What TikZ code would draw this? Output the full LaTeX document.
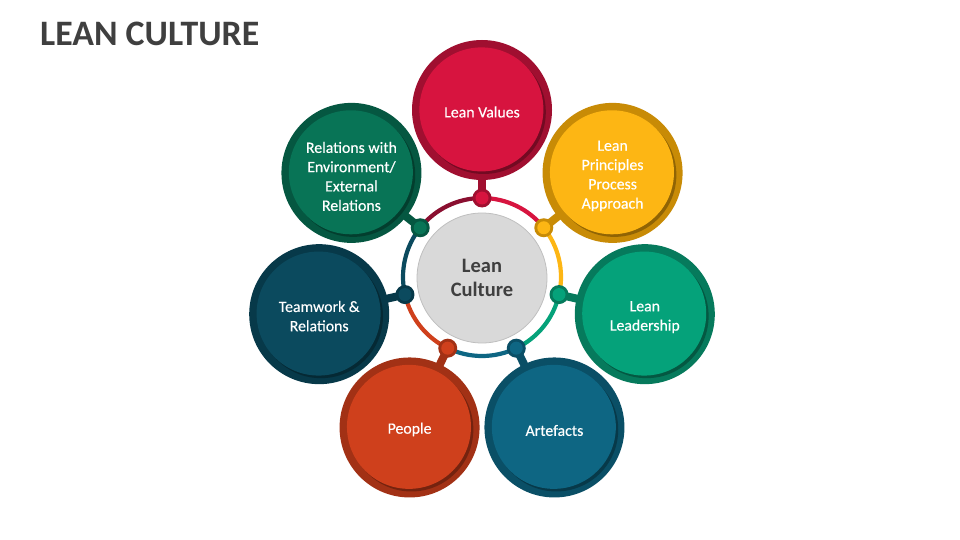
\documentclass[tikz,border=0pt]{standalone}
\usepackage{fontspec}
\setmainfont{Carlito}
\newfontface\labfont{Carlito}[FakeBold=0.4]
\usetikzlibrary{calc}
\pgfdeclarelayer{background}
\pgfsetlayers{background,main}
\definecolor{valL}{HTML}{D7143F}\definecolor{valD}{HTML}{A00F30}
\definecolor{priL}{HTML}{FDB614}\definecolor{priD}{HTML}{C88B06}
\definecolor{leaL}{HTML}{05A27A}\definecolor{leaD}{HTML}{067A5C}
\definecolor{artL}{HTML}{0E6683}\definecolor{artD}{HTML}{0A4F66}
\definecolor{peoL}{HTML}{CF401C}\definecolor{peoD}{HTML}{A23115}
\definecolor{teaL}{HTML}{0B4A5E}\definecolor{teaD}{HTML}{073949}
\definecolor{relL}{HTML}{087456}\definecolor{relD}{HTML}{055741}
\definecolor{arcV}{HTML}{8A0F30}
\definecolor{titlegray}{HTML}{3F3F3F}
\definecolor{centerfill}{HTML}{D9D9D9}
\definecolor{centerline}{HTML}{BFBFBF}
\tikzset{
  bubble/.style 2 args={circle, minimum size=140pt, inner sep=0pt, fill=#1,
    path picture={
      \fill[black,opacity=0.28] ([shift={(1.8pt,-2pt)}]path picture bounding box.center) circle (62pt);
      \fill[#2] ([shift={(-0.6pt,0.6pt)}]path picture bounding box.center) circle (62pt);
    }},
  bubbletext/.style={text=white, align=center, inner sep=0pt,
    font=\labfont\fontsize{15.8}{19.3}\selectfont},
  ringdot/.style 2 args={circle, minimum size=19pt, inner sep=0pt, fill=#1,
    path picture={\fill[#2] (path picture bounding box.center) circle (6.5pt);}},
  stem/.style={line width=8pt, draw=#1},
  ringarc/.style={line width=4.2pt, draw=#1},
  hub/.style={circle, minimum size=130pt, inner sep=0pt, fill=centerfill,
    draw=centerline, line width=0.8pt, text=titlegray, align=center,
    font=\bfseries\fontsize{20.5}{24.4}\selectfont},
  title/.style={anchor=base west, text=titlegray, inner sep=0pt,
    font=\bfseries\fontsize{35.8}{40}\selectfont}
}
\begin{document}
\begin{tikzpicture}[x=1pt,y=-1pt]
\useasboundingbox (0,0) rectangle (960,540);
\node[title] (title) at (40,46) {LEAN CULTURE};
\coordinate (c) at (482,277);
\node[hub] (hub) at ([yshift=-1pt]c) {Lean\\Culture};
% dots on the ring (picture angle = - screen angle)
\node[ringdot={valD}{valL}] (dV) at ($(c)+(-90:79)$) {};
\node[ringdot={priD}{priL}] (dP) at ($(c)+(-38.57:79)$) {};
\node[ringdot={leaD}{leaL}] (dL) at ($(c)+(12.86:79)$) {};
\node[ringdot={artD}{artL}] (dA) at ($(c)+(64.29:79)$) {};
\node[ringdot={peoD}{peoL}] (dO) at ($(c)+(115.71:79)$) {};
\node[ringdot={teaD}{teaL}] (dT) at ($(c)+(167.14:79)$) {};
\node[ringdot={relD}{relL}] (dR) at ($(c)+(218.57:79)$) {};
% bubbles
\node[bubble={valD}{valL}] (V) at ($(c)+(-90:167)$) {};
\node[bubble={priD}{priL}] (P) at ($(c)+(-38.57:167)$) {};
\node[bubble={leaD}{leaL}] (L) at ($(c)+(12.86:167)$) {};
\node[bubble={artD}{artL}] (A) at ($(c)+(64.29:167)$) {};
\node[bubble={peoD}{peoL}] (O) at ($(c)+(115.71:167)$) {};
\node[bubble={teaD}{teaL}] (T) at ($(c)+(167.14:167)$) {};
\node[bubble={relD}{relL}] (R) at ($(c)+(218.57:167)$) {};
% bubble texts
\node[bubbletext] (Vt) at ([yshift=-2pt]V) {Lean Values};
\node[bubbletext] (Pt) at ([yshift=-3pt]P) {Lean\\Principles\\Process\\Approach};
\node[bubbletext] (Lt) at ([yshift=-3pt]L) {Lean\\Leadership};
\node[bubbletext] (At) at ([yshift=-3pt]A) {Artefacts};
\node[bubbletext] (Ot) at ([yshift=-2pt]O) {People};
\node[bubbletext] (Tt) at ([yshift=-2pt]T) {Teamwork \&\\Relations};
\node[bubbletext] (Rt) at ([yshift=-3.5pt]R) {Relations with\\Environment/\\External\\Relations};
\begin{pgfonlayer}{background}
  \draw[ringarc=arcV] (dR.center) arc[start angle=218.57, end angle=270, radius=79];
  \draw[ringarc=valL] (dV.center) arc[start angle=270, end angle=321.43, radius=79];
  \draw[ringarc=priL] (dP.center) arc[start angle=321.43, end angle=372.86, radius=79];
  \draw[ringarc=leaL] (dL.center) arc[start angle=12.86, end angle=64.29, radius=79];
  \draw[ringarc=artL] (dA.center) arc[start angle=64.29, end angle=115.71, radius=79];
  \draw[ringarc=peoL] (dO.center) arc[start angle=115.71, end angle=167.14, radius=79];
  \draw[ringarc=teaL] (dT.center) arc[start angle=167.14, end angle=218.57, radius=79];
  \draw[stem=valD] (dV.center) -- (V.center);
  \draw[stem=priD] (dP.center) -- (P.center);
  \draw[stem=leaD] (dL.center) -- (L.center);
  \draw[stem=artD] (dA.center) -- (A.center);
  \draw[stem=peoD] (dO.center) -- (O.center);
  \draw[stem=teaD] (dT.center) -- (T.center);
  \draw[stem=relD] (dR.center) -- (R.center);
\end{pgfonlayer}
\end{tikzpicture}
\end{document}
